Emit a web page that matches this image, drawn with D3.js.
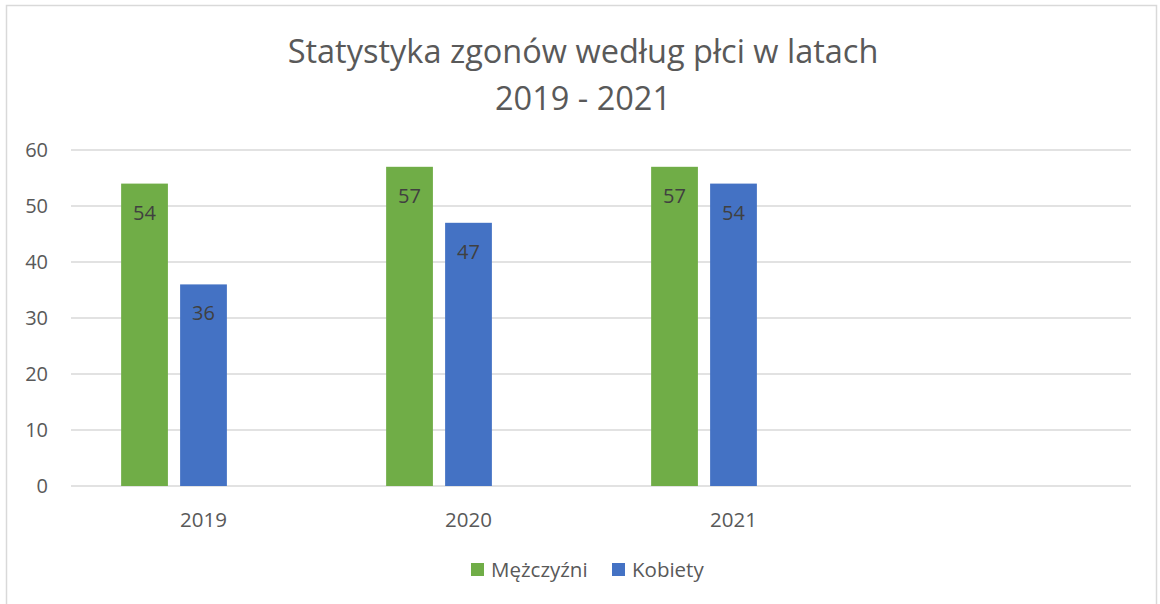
<!DOCTYPE html>
<html>
<head>
<meta charset="utf-8">
<script src="https://cdn.jsdelivr.net/npm/d3@7"></script>
<style>
    body { margin: 0; background: #fff; }
    svg { display: block; font-family: "Open Sans", "Noto Sans", sans-serif; }
</style>
</head>
<body>
<svg id="chart" width="1160" height="604"></svg>
<script>
// chart data
const years = ["2019", "2020", "2021", ""];
const seriesNames = ["Mężczyźni", "Kobiety"];
const men = [54, 57, 57];
const women = [36, 47, 54];
const yTicks = [0, 10, 20, 30, 40, 50, 60];
const titleLines = ["Statystyka zgonów według płci w latach", "2019 - 2021"];
const colors = ["#70ad47", "#4472c4"];

const width = 1160, height = 604;
const margin = {left: 71, right: 29, top: 150, bottom: 118};

const svg = d3.select("#chart");

// outer chart border
svg.append("rect")
    .attr("x", 6.5)
    .attr("y", 5.5)
    .attr("width", 1150)
    .attr("height", 610)
    .attr("fill", "white")
    .attr("stroke", "#d9d9d9")
    .attr("stroke-width", 1.5);

const x0 = d3.scaleBand()
    .domain(years)
    .range([margin.left, width - margin.right])
    .paddingInner(0)
    .paddingOuter(0);

// three slots per group (third series is empty in the source workbook)
const x1 = d3.scaleBand()
    .domain([0, 1, 2])
    .range([0, x0.bandwidth()])
    .paddingInner(12 / 58)
    .paddingOuter(0.85);

const y = d3.scaleLinear()
    .domain([0, 60])
    .range([height - margin.bottom, margin.top]);

// gridlines
svg.append("g")
    .selectAll("line")
    .data(yTicks)
    .enter()
    .append("line")
    .attr("x1", margin.left)
    .attr("x2", width - margin.right)
    .attr("y1", d => y(d))
    .attr("y2", d => y(d))
    .attr("stroke", "#d9d9d9")
    .attr("stroke-width", 1.5);

// y tick labels
svg.append("g")
    .selectAll("text")
    .data(yTicks)
    .enter()
    .append("text")
    .attr("x", 48)
    .attr("y", d => y(d))
    .attr("dy", "0.36em")
    .attr("text-anchor", "end")
    .attr("fill", "#595959")
    .style("font-size", "20px")
    .text(d => d);

// bars
const rows = years.slice(0, 3).map((yr, i) => ({year: yr, values: [men[i], women[i]]}));

const groups = svg.append("g")
    .selectAll("g")
    .data(rows)
    .enter()
    .append("g")
    .attr("transform", d => "translate(" + x0(d.year) + ",0)");

const bars = groups.selectAll("g")
    .data(d => d.values.map((v, k) => ({k: k, v: v})))
    .enter()
    .append("g");

bars.append("rect")
    .attr("x", d => x1(d.k))
    .attr("y", d => y(d.v))
    .attr("width", x1.bandwidth())
    .attr("height", d => y(0) - y(d.v))
    .attr("fill", d => colors[d.k]);

bars.append("text")
    .attr("x", d => x1(d.k) + x1.bandwidth() / 2)
    .attr("y", d => y(d.v) + 36)
    .attr("text-anchor", "middle")
    .attr("fill", "#404040")
    .style("font-size", "20px")
    .text(d => d.v);

// x category labels
svg.append("g")
    .selectAll("text")
    .data(years)
    .enter()
    .append("text")
    .attr("x", d => x0(d) + x0.bandwidth() / 2)
    .attr("y", 527)
    .attr("text-anchor", "middle")
    .attr("fill", "#595959")
    .style("font-size", "20.5px")
    .text(d => d);

// title
svg.append("g")
    .selectAll("text")
    .data(titleLines)
    .enter()
    .append("text")
    .attr("x", 583)
    .attr("y", (d, i) => 63 + i * 47)
    .attr("text-anchor", "middle")
    .attr("fill", "#595959")
    .style("font-size", "32.5px")
    .text(d => d);

// legend
const legendX = [471, 612];
const legend = svg.append("g")
    .selectAll("g")
    .data(seriesNames)
    .enter()
    .append("g")
    .attr("transform", (d, i) => "translate(" + legendX[i] + ",563)");

legend.append("rect")
    .attr("width", 13)
    .attr("height", 13)
    .attr("fill", (d, i) => colors[i]);

legend.append("text")
    .attr("x", 20)
    .attr("y", 7)
    .attr("dy", "0.36em")
    .attr("fill", "#595959")
    .style("font-size", "20.5px")
    .text(d => d);
</script>
</body>
</html>
